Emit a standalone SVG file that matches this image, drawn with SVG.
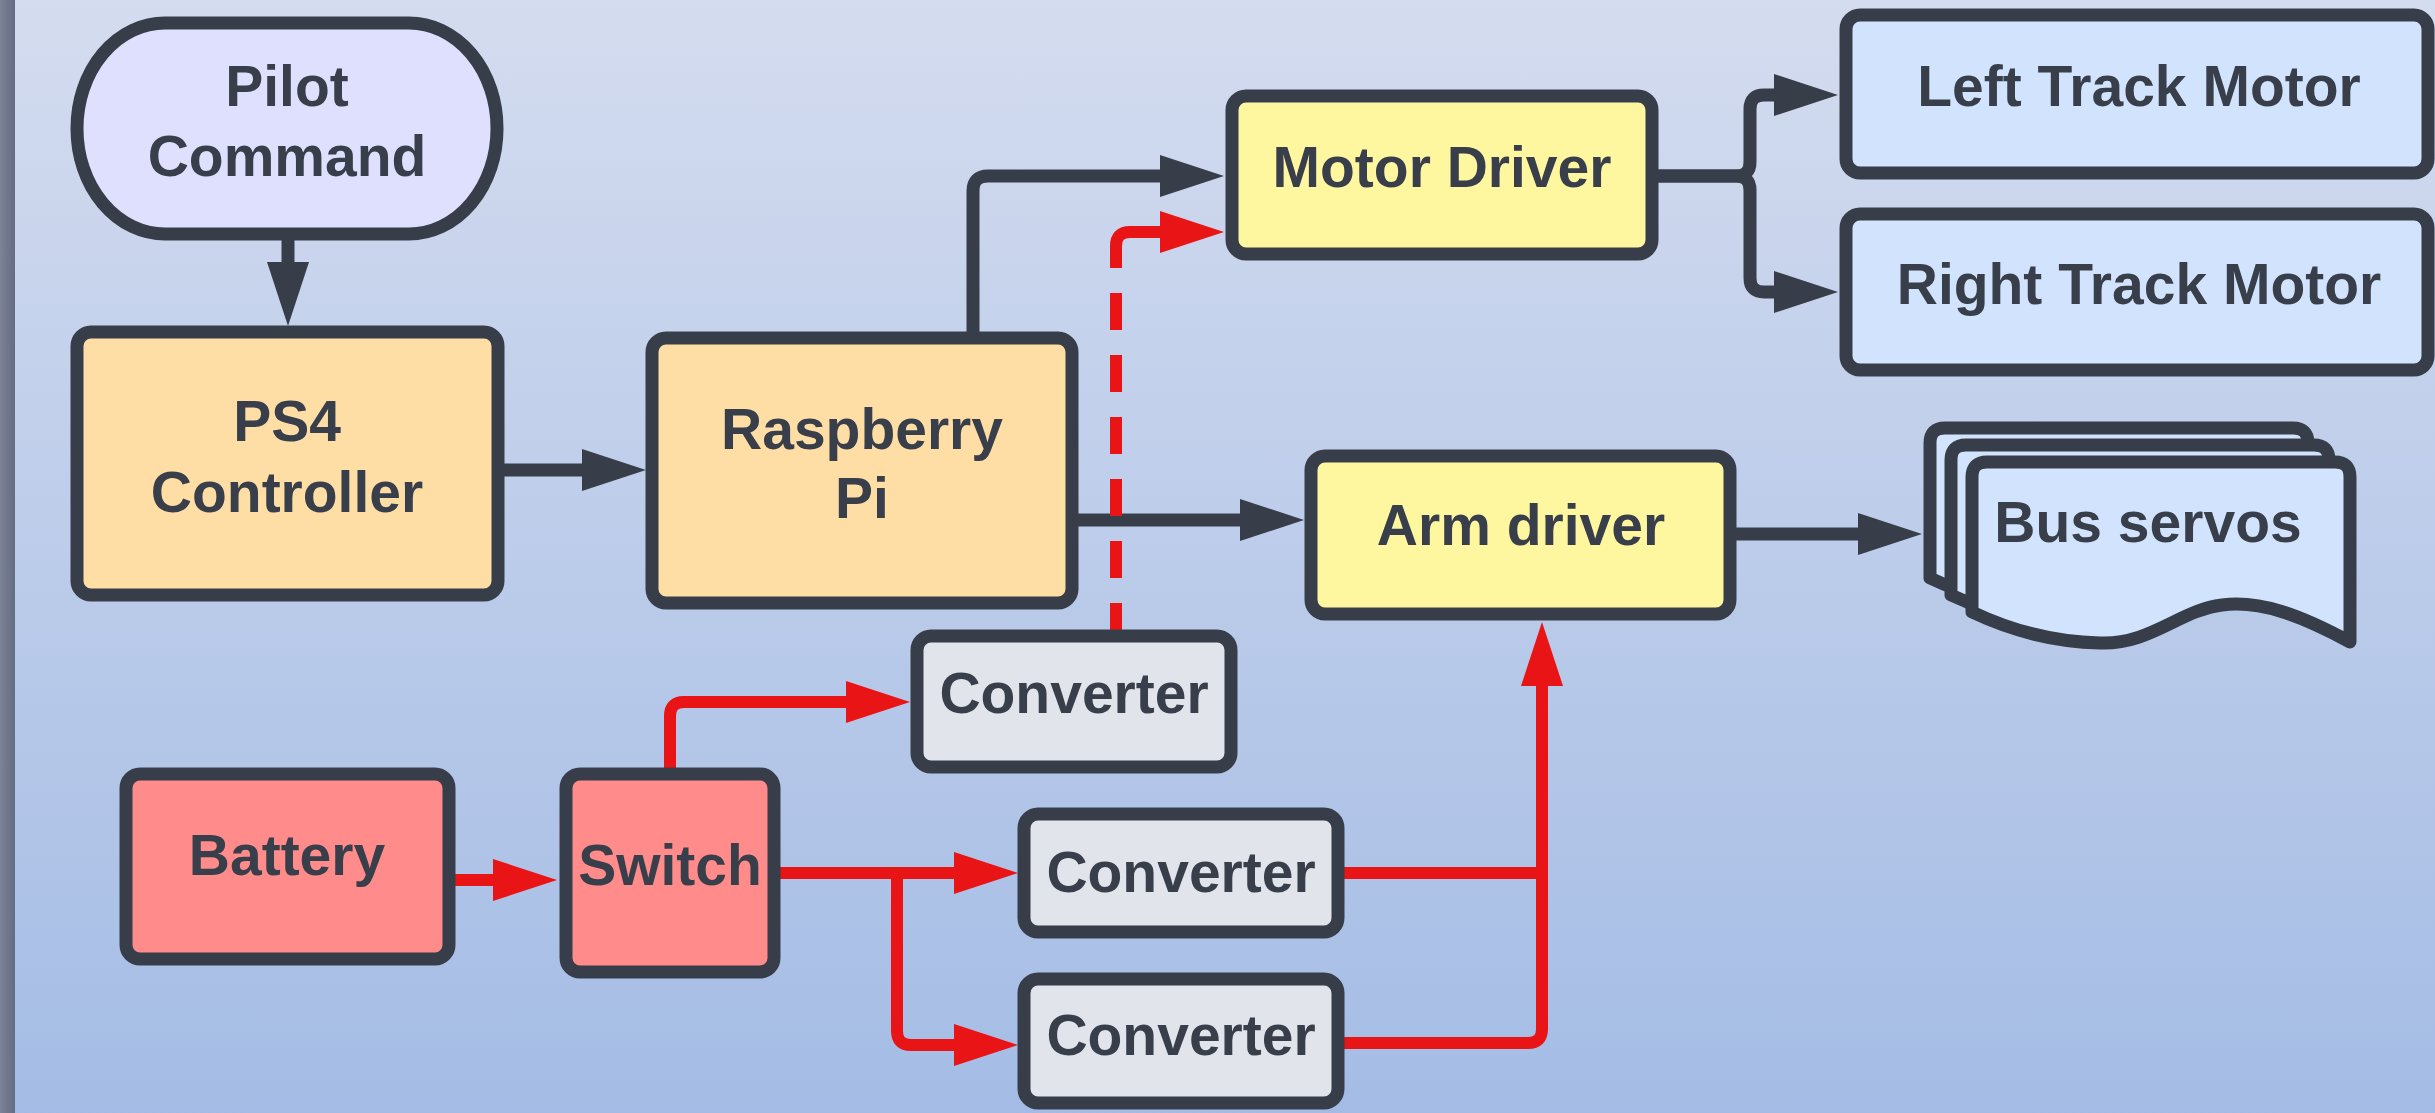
<svg xmlns="http://www.w3.org/2000/svg" width="2435" height="1113" viewBox="0 0 2435 1113">
<defs>
<linearGradient id="bg" x1="0" y1="0" x2="0" y2="1">
<stop offset="0" stop-color="#d4dcef"/>
<stop offset="1" stop-color="#a4bce5"/>
</linearGradient>
<linearGradient id="strip" x1="0" y1="0" x2="1" y2="0">
<stop offset="0" stop-color="#7d8396"/>
<stop offset="1" stop-color="#656c82"/>
</linearGradient>
<marker id="ad" markerUnits="userSpaceOnUse" markerWidth="66" markerHeight="44" refX="0" refY="21" orient="auto" overflow="visible">
<path d="M0,0 L64,21 L0,42 Z" fill="#383e49"/>
</marker>
<marker id="ar" markerUnits="userSpaceOnUse" markerWidth="66" markerHeight="44" refX="0" refY="21" orient="auto" overflow="visible">
<path d="M0,0 L64,21 L0,42 Z" fill="#e81416"/>
</marker>
</defs>
<style>
.box{stroke:#383e49;stroke-width:13;stroke-linejoin:round}
.t{font-family:"Liberation Sans",Arial,sans-serif;font-weight:bold;font-size:57px;fill:#383e4a;text-anchor:middle}
.dk{fill:none;stroke:#383e49;stroke-width:13}
.rd{fill:none;stroke:#e81416;stroke-width:12}
.pilot{fill:#dfe0fd}
.orange{fill:#ffdea6}
.yellow{fill:#fff6a0}
.blue{fill:#d2e4fd}
.grey{fill:#e1e4ea}
.red{fill:#ff8b8b}
</style>
<rect x="0" y="0" width="2435" height="1113" fill="url(#bg)"/>
<rect x="0" y="0" width="15" height="1113" fill="url(#strip)"/>

<g id="connectors">
<path class="dk" d="M288,240 V262" marker-end="url(#ad)"/>
<path class="dk" d="M504,470 H582" marker-end="url(#ad)"/>
<path class="dk" d="M973,338 V191 Q973,176 988,176 H1160" marker-end="url(#ad)"/>
<path class="dk" d="M1078,520 H1240" marker-end="url(#ad)"/>
<path class="dk" d="M1658,176 H1736 Q1750,176 1750,162 V109 Q1750,95 1764,95 H1774" marker-end="url(#ad)"/>
<path class="dk" d="M1658,176 H1736 Q1750,176 1750,190 V278 Q1750,292 1764,292 H1774" marker-end="url(#ad)"/>
<path class="dk" d="M1736,534 H1858" marker-end="url(#ad)"/>
<path class="rd" d="M455,880 H493" marker-end="url(#ar)"/>
<path class="rd" d="M670,774 V716 Q670,702 684,702 H846" marker-end="url(#ar)"/>
<path class="rd" d="M779,873 H954" marker-end="url(#ar)"/>
<path class="rd" d="M897,873 V1031 Q897,1045 911,1045 H954" marker-end="url(#ar)"/>
<path class="rd" d="M1344,873 H1542"/>
<path class="rd" d="M1344,1043 H1528 Q1542,1043 1542,1029 V686" marker-end="url(#ar)"/>
<path class="rd" d="M1116,630 V268" stroke-dasharray="37 25" stroke-dashoffset="10"/>
<path class="rd" d="M1116,268 V246 Q1116,232 1130,232 H1160" marker-end="url(#ar)"/>
</g>

<g id="pilot-command">
<rect class="box pilot" x="77" y="23" width="420" height="211" rx="88" ry="105"/>
<text class="t" x="287" y="106">Pilot</text>
<text class="t" x="287" y="176">Command</text>
</g>
<g id="ps4-controller">
<rect class="box orange" x="77" y="332" width="421" height="263" rx="14"/>
<text class="t" x="287" y="441">PS4</text>
<text class="t" x="287" y="512">Controller</text>
</g>
<g id="raspberry-pi">
<rect class="box orange" x="652" y="338" width="420" height="265" rx="14"/>
<text class="t" x="862" y="449">Raspberry</text>
<text class="t" x="862" y="518">Pi</text>
</g>
<g id="motor-driver">
<rect class="box yellow" x="1232" y="96" width="420" height="158" rx="14"/>
<text class="t" x="1442" y="187">Motor Driver</text>
</g>
<g id="arm-driver">
<rect class="box yellow" x="1311" y="456" width="419" height="158" rx="14"/>
<text class="t" x="1521" y="545">Arm driver</text>
</g>
<g id="left-track-motor">
<rect class="box blue" x="1846" y="15" width="582" height="158" rx="14"/>
<text class="t" x="2139" y="106">Left Track Motor</text>
</g>
<g id="right-track-motor">
<rect class="box blue" x="1846" y="214" width="582" height="156" rx="14"/>
<text class="t" x="2139" y="304">Right Track Motor</text>
</g>
<g id="bus-servos">
<path class="box blue" transform="translate(-42,-34)" d="M1972,612 L1972,477 Q1972,462 1987,462 L2335,462 Q2350,462 2350,477 L2350,642 C2300,615 2260,600 2222,605 C2180,610 2150,645 2100,643 C2050,642 2010,630 1972,612 Z"/>
<path class="box blue" transform="translate(-21,-17)" d="M1972,612 L1972,477 Q1972,462 1987,462 L2335,462 Q2350,462 2350,477 L2350,642 C2300,615 2260,600 2222,605 C2180,610 2150,645 2100,643 C2050,642 2010,630 1972,612 Z"/>
<path class="box blue" d="M1972,612 L1972,477 Q1972,462 1987,462 L2335,462 Q2350,462 2350,477 L2350,642 C2300,615 2260,600 2222,605 C2180,610 2150,645 2100,643 C2050,642 2010,630 1972,612 Z"/>
<text class="t" x="2148" y="542">Bus servos</text>
</g>
<g id="converter-1">
<rect class="box grey" x="917" y="636" width="314" height="131" rx="14"/>
<text class="t" x="1074" y="713">Converter</text>
</g>
<g id="converter-2">
<rect class="box grey" x="1024" y="814" width="314" height="118" rx="14"/>
<text class="t" x="1181" y="892">Converter</text>
</g>
<g id="converter-3">
<rect class="box grey" x="1024" y="979" width="314" height="124" rx="14"/>
<text class="t" x="1181" y="1055">Converter</text>
</g>
<g id="battery">
<rect class="box red" x="126" y="774" width="323" height="185" rx="14"/>
<text class="t" x="287" y="875">Battery</text>
</g>
<g id="switch">
<rect class="box red" x="566" y="774" width="208" height="198" rx="14"/>
<text class="t" x="670" y="885">Switch</text>
</g>
</svg>
